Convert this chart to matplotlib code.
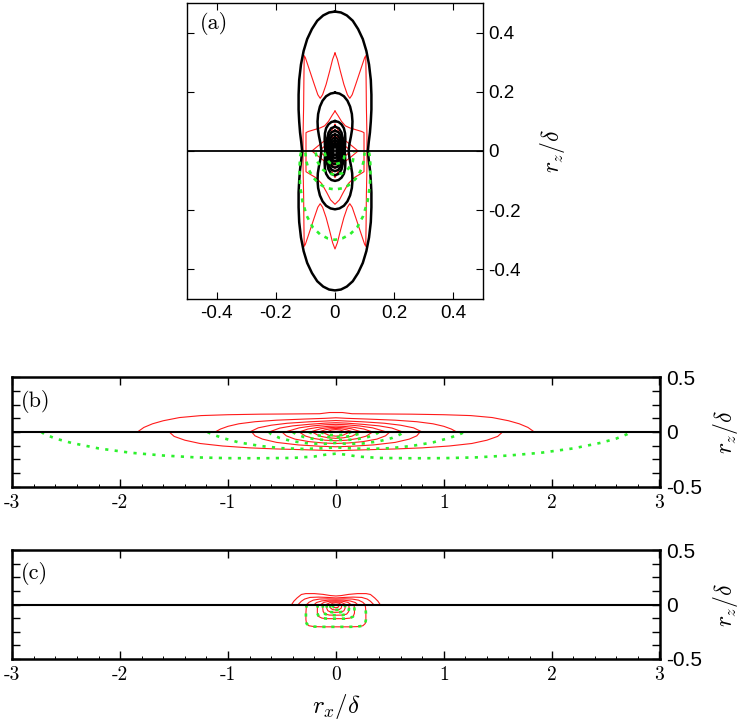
import numpy as np
import matplotlib
matplotlib.use('Agg')
import matplotlib.pyplot as plt

plt.rcParams['mathtext.fontset'] = 'cm'

# ---------------- panel (a): contours ----------------
# black: quarter shapes (0,top) -> (side,0), symmetric up/down and left/right
a_black = [
    [(0,0.471),(0.02,0.468),(0.04,0.458),(0.06,0.44),(0.078,0.412),(0.094,0.378),(0.106,0.338),
     (0.115,0.292),(0.121,0.24),(0.123,0.19),(0.123,0.14),(0.121,0.1),(0.118,0.062),(0.114,0.03),(0.111,0.0)],
    [(0,0.197),(0.015,0.194),(0.03,0.185),(0.042,0.17),(0.051,0.15),(0.057,0.125),(0.059,0.1),
     (0.058,0.075),(0.054,0.05),(0.049,0.025),(0.046,0.0)],
    [(0,0.101),(0.012,0.098),(0.022,0.09),(0.03,0.077),(0.034,0.06),(0.035,0.04),(0.034,0.02),(0.033,0.0)],
    [(0,0.082),(0.013,0.077),(0.022,0.062),(0.027,0.04),(0.027,0.02),(0.026,0.0)],
    [(0,0.068),(0.011,0.064),(0.019,0.052),(0.023,0.034),(0.023,0.016),(0.022,0.0)],
    [(0,0.056),(0.009,0.053),(0.016,0.043),(0.019,0.028),(0.019,0.013),(0.018,0.0)],
    [(0,0.045),(0.007,0.042),(0.013,0.034),(0.015,0.022),(0.015,0.01),(0.014,0.0)],
    [(0,0.035),(0.006,0.033),(0.01,0.026),(0.012,0.017),(0.012,0.008),(0.011,0.0)],
    [(0,0.025),(0.004,0.023),(0.007,0.018),(0.009,0.012),(0.009,0.0)],
    [(0,0.015),(0.003,0.014),(0.005,0.01),(0.006,0.0)],
]
# red: right halves, top -> bottom (mirrored left/right)
a_red = [
    [(0,0.331),(0.008,0.31),(0.018,0.27),(0.03,0.225),(0.042,0.19),(0.05,0.178),(0.058,0.19),
     (0.07,0.225),(0.085,0.27),(0.1,0.315),(0.104,0.322),(0.105,0.25),(0.106,0.15),(0.108,0.05),
     (0.108,-0.05),(0.106,-0.15),(0.105,-0.25),(0.104,-0.322),(0.1,-0.315),(0.085,-0.27),
     (0.07,-0.225),(0.058,-0.19),(0.05,-0.178),(0.042,-0.19),(0.03,-0.225),(0.018,-0.27),
     (0.008,-0.31),(0,-0.331)],
    [(0,0.135),(0.01,0.12),(0.022,0.1),(0.035,0.085),(0.05,0.078),(0.07,0.072),(0.09,0.066),
     (0.098,0.062),(0.098,0.02),(0.098,-0.03),(0.098,-0.07),(0.085,-0.078),(0.065,-0.09),
     (0.045,-0.11),(0.028,-0.14),(0.015,-0.165),(0,-0.18)],
    [(0,0.09),(0.015,0.06),(0.035,0.035),(0.06,0.015),(0.078,0.0),(0.06,-0.015),(0.035,-0.035),
     (0.015,-0.06),(0,-0.09)],
    [(0,0.06),(0.012,0.04),(0.028,0.022),(0.045,0.008),(0.05,0.0),(0.045,-0.008),(0.028,-0.022),
     (0.012,-0.04),(0,-0.06)],
    [(0,0.04),(0.01,0.025),(0.022,0.01),(0.03,0.0),(0.022,-0.01),(0.01,-0.025),(0,-0.04)],
]
# green dashed: right halves of lower arcs, (0,bottom) -> end near zero line
a_green = [
    [(0,-0.3),(0.025,-0.295),(0.05,-0.282),(0.075,-0.258),(0.095,-0.22),(0.11,-0.17),(0.118,-0.115),
     (0.12,-0.06),(0.118,-0.02),(0.115,-0.005)],
    [(0,-0.13),(0.03,-0.125),(0.055,-0.11),(0.075,-0.088),(0.09,-0.06),(0.098,-0.03),(0.1,-0.005)],
    [(0,-0.08),(0.025,-0.075),(0.045,-0.06),(0.06,-0.035),(0.065,-0.005)],
    [(0,-0.045),(0.018,-0.04),(0.03,-0.025),(0.035,-0.005)],
]

# ---------------- panel (b) ----------------
# right halves (0,peak) -> (end,0)
b_red_up = [
    [(0,0.178),(0.06,0.178),(0.15,0.167),(0.4,0.165),(0.7,0.163),(1.0,0.158),(1.25,0.15),
     (1.45,0.132),(1.6,0.103),(1.7,0.075),(1.78,0.042),(1.84,0.0)],
    [(0,0.13),(0.1,0.125),(0.3,0.118),(0.55,0.108),(0.75,0.094),(0.9,0.075),(1.0,0.052),(1.07,0.027),(1.12,0.0)],
    [(0,0.105),(0.1,0.1),(0.25,0.093),(0.45,0.08),(0.6,0.062),(0.72,0.038),(0.8,0.0)],
    [(0,0.085),(0.1,0.081),(0.25,0.07),(0.4,0.056),(0.52,0.036),(0.62,0.0)],
    [(0,0.07),(0.1,0.066),(0.22,0.055),(0.34,0.038),(0.47,0.0)],
    [(0,0.055),(0.08,0.051),(0.17,0.042),(0.26,0.027),(0.34,0.0)],
    [(0,0.043),(0.07,0.039),(0.14,0.03),(0.24,0.0)],
    [(0,0.032),(0.05,0.029),(0.1,0.02),(0.16,0.0)],
    [(0,0.022),(0.04,0.018),(0.09,0.0)],
]
b_red_lo = [
    [(0,-0.172),(0.1,-0.168),(0.3,-0.162),(0.55,-0.155),(0.8,-0.145),(1.05,-0.128),(1.26,-0.105),
     (1.4,-0.075),(1.5,-0.04),(1.545,0.0)],
    [(0,-0.135),(0.15,-0.13),(0.35,-0.118),(0.55,-0.095),(0.68,-0.065),(0.75,-0.035),(0.78,0.0)],
    [(0,-0.105),(0.12,-0.1),(0.25,-0.088),(0.38,-0.065),(0.46,-0.035),(0.5,0.0)],
    [(0,-0.08),(0.1,-0.075),(0.2,-0.06),(0.28,-0.038),(0.34,0.0)],
    [(0,-0.058),(0.07,-0.053),(0.15,-0.038),(0.22,0.0)],
    [(0,-0.038),(0.06,-0.032),(0.13,0.0)],
]
b_green = [
    [(0,-0.198),(0.1,-0.208),(0.2,-0.224),(0.4,-0.237),(0.7,-0.24),(1.0,-0.239),(1.3,-0.232),
     (1.6,-0.215),(1.9,-0.19),(2.2,-0.15),(2.45,-0.1),(2.6,-0.06),(2.7,-0.02),(2.73,0.0)],
    [(0,-0.14),(0.1,-0.148),(0.3,-0.155),(0.5,-0.148),(0.7,-0.128),(0.9,-0.095),(1.05,-0.055),
     (1.15,-0.02),(1.19,0.0)],
    [(0,-0.1),(0.1,-0.108),(0.25,-0.105),(0.4,-0.085),(0.52,-0.055),(0.6,-0.02),(0.62,0.0)],
    [(0,-0.07),(0.08,-0.075),(0.2,-0.065),(0.3,-0.045),(0.37,-0.02),(0.4,0.0)],
    [(0,-0.048),(0.08,-0.045),(0.16,-0.032),(0.22,-0.015),(0.25,0.0)],
    [(0,-0.03),(0.06,-0.026),(0.11,-0.014),(0.14,0.0)],
]

# ---------------- panel (c) ----------------
c_red_up = [
    [(0,0.078),(0.05,0.082),(0.12,0.093),(0.2,0.1),(0.28,0.1),(0.32,0.092),(0.36,0.06),(0.39,0.03),(0.41,0.0)],
    [(0,0.06),(0.08,0.065),(0.16,0.068),(0.24,0.065),(0.29,0.05),(0.32,0.03),(0.35,0.0)],
    [(0,0.05),(0.08,0.052),(0.15,0.05),(0.21,0.04),(0.25,0.02),(0.27,0.0)],
    [(0,0.04),(0.07,0.04),(0.13,0.033),(0.18,0.018),(0.2,0.0)],
    [(0,0.032),(0.06,0.03),(0.11,0.02),(0.14,0.0)],
    [(0,0.024),(0.05,0.02),(0.09,0.0)],
    [(0,0.016),(0.03,0.012),(0.05,0.0)],
]
c_lower = [
    [(0,-0.205),(0.12,-0.205),(0.2,-0.203),(0.25,-0.195),(0.272,-0.175),(0.278,-0.14),(0.278,-0.08),
     (0.275,-0.03),(0.27,0.0)],
    [(0,-0.13),(0.08,-0.13),(0.13,-0.125),(0.16,-0.11),(0.172,-0.08),(0.172,-0.04),(0.168,0.0)],
    [(0,-0.098),(0.06,-0.097),(0.1,-0.088),(0.118,-0.065),(0.122,-0.03),(0.12,0.0)],
    [(0,-0.072),(0.045,-0.07),(0.074,-0.058),(0.085,-0.035),(0.085,0.0)],
    [(0,-0.05),(0.03,-0.047),(0.05,-0.032),(0.055,0.0)],
    [(0,-0.03),(0.02,-0.026),(0.03,0.0)],
]

a_ticks = [-0.4, -0.2, 0, 0.2, 0.4]
a_ticklabels = ['-0.4', '-0.2', '0', '0.2', '0.4']
bc_xticks = [-3, -2, -1, 0, 1, 2, 3]
bc_xticklabels = ['-3', '-2', '-1', '0', '1', '2', '3']
bc_yticks = [-0.5, -0.375, -0.25, -0.125, 0, 0.125, 0.25, 0.375, 0.5]
bc_yticklabels = ['-0.5', '', '', '', '0', '', '', '', '0.5']

RED = '#ff1a1a'
GREEN = '#2cf02c'
SANS = 'Liberation Sans'


def quarter_to_closed(q):
    right = q + [(x, -y) for x, y in reversed(q[:-1])]
    return right + [(-x, y) for x, y in reversed(right[:-1])]


def half_to_full(h):
    return h + [(-x, y) for x, y in reversed(h[:-1])]


def open_mirror(h):
    return [(-x, y) for x, y in reversed(h)] + h[1:]


def draw(ax, pts, **kw):
    p = np.array(pts)
    ax.plot(p[:, 0], p[:, 1], **kw)


fig = plt.figure(figsize=(7.55, 7.27), dpi=100)

# ---- (a)
ax = fig.add_axes([187/755, 1-299/727, 296/755, 296/727])
for h in a_red:
    draw(ax, half_to_full(h), color=RED, lw=0.8)
for q in a_black:
    draw(ax, quarter_to_closed(q), color='black', lw=1.8)
for h in a_green:
    draw(ax, open_mirror(h), color=GREEN, lw=1.9, ls=(0, (1.5, 2.0)))
ax.axhline(0, color='black', lw=1.3)
ax.set_xlim(-0.5, 0.5)
ax.set_ylim(-0.5, 0.5)
ax.set_xticks(a_ticks)
ax.set_xticklabels(a_ticklabels, fontfamily=SANS, fontsize=13.5)
ax.set_yticks(a_ticks)
ax.set_yticklabels(a_ticklabels, fontfamily=SANS, fontsize=13.5)
ax.tick_params(direction='in', length=5, width=0.8, top=True, right=True,
               labelleft=False, labelright=True, pad=4)
ax.yaxis.set_label_position('right')
ax.set_ylabel(r'$r_z/\delta$', fontsize=17, labelpad=12)
for s in ax.spines.values():
    s.set_linewidth(1.0)
ax.text(0.045, 0.93, '(a)', transform=ax.transAxes, fontfamily='cmr10', fontsize=16, va='center')

# ---- (b) and (c)
axb = fig.add_axes([12.3/755, 1-486.7/727, 647.2/755, 109.4/727])
axc = fig.add_axes([12.3/755, 1-659/727, 647.2/755, 109/727])

for h in b_red_up + b_red_lo:
    draw(axb, open_mirror(h), color=RED, lw=0.8)
for h in b_green:
    draw(axb, open_mirror(h), color=GREEN, lw=1.9, ls=(0, (1.2, 2.4)))

for h in c_red_up + c_lower:
    draw(axc, open_mirror(h), color=RED, lw=0.8)
for h in c_lower:
    draw(axc, open_mirror(h), color=GREEN, lw=1.9, ls=(0, (1.2, 2.2)))

for a, lab in [(axb, '(b)'), (axc, '(c)')]:
    a.axhline(0, color='black', lw=1.5)
    a.set_xlim(-3, 3)
    a.set_ylim(-0.5, 0.5)
    a.set_xticks(bc_xticks)
    a.set_xticklabels(bc_xticklabels, fontfamily='cmr10', fontsize=14)
    a.set_xticks(np.arange(-3, 3.01, 0.2), minor=True)
    a.set_yticks(bc_yticks)
    a.set_yticklabels(bc_yticklabels, fontfamily=SANS, fontsize=15)
    a.tick_params(which='major', direction='in', length=6, width=1.0, top=True, right=True,
                  labelleft=False, labelright=True, pad=5)
    a.tick_params(which='minor', direction='in', length=2, width=0.7, bottom=True, top=False)
    a.yaxis.set_label_position('right')
    a.set_ylabel(r'$r_z/\delta$', fontsize=17, labelpad=6)
    for s in a.spines.values():
        s.set_linewidth(1.8)
    a.text(0.013, 0.78, lab, transform=a.transAxes, fontfamily='cmr10', fontsize=16, va='center')

axc.set_xlabel(r'$r_x/\delta$', fontsize=18, labelpad=6)

fig.savefig('out.png', dpi=100)
